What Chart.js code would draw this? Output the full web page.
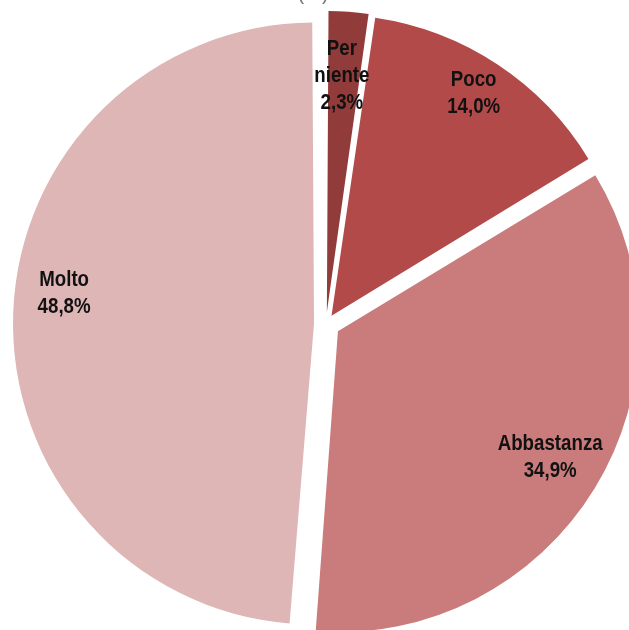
<!DOCTYPE html>
<html>
<head>
<meta charset="utf-8">
<script src="https://cdn.jsdelivr.net/npm/chart.js@4.4.1/dist/chart.umd.min.js"></script>
<style>
  html, body { margin: 0; padding: 0; overflow: hidden; background: #fff; width: 629px; height: 630px; }
  canvas { display: block; }
</style>
</head>
<body>
<canvas id="torta" width="652" height="648"></canvas>
<script>
const categorie = ["Per niente", "Poco", "Abbastanza", "Molto"];
const percentuali = [2.3, 14.0, 34.9, 48.8];
const colori = ["#923b3b", "#b24a49", "#c97c7b", "#deb6b6"];
// offset di Chart.js: lo spostamento reale della fetta è offset/4
const distacchi = [48, 40, 56, 48];
const raggio = 301;
// etichette: [scarto d'angolo in gradi, frazione del raggio]
const posEtichette = [[-0.5, 0.787], [-0.9, 0.877], [-0.8, 0.82], [4.6, 0.836]];

function fmt(v) {
  return v.toFixed(1).replace(".", ",") + "%";
}

// Chart.js allarga un po' le fette spostate: riporto tutte allo stesso raggio
const stessoRaggio = {
  id: "stessoRaggio",
  beforeDatasetsDraw(chart) {
    const meta = chart.getDatasetMeta(0);
    meta.data.forEach((arc, i) => {
      const circ = arc.endAngle - arc.startAngle;
      const crescita = distacchi[i] / 4 * (1 - Math.sin(Math.min(Math.PI, circ)));
      arc.outerRadius = raggio - crescita;
    });
  }
};

const etichette = {
  id: "etichette",
  afterDatasetsDraw(chart) {
    const ctx = chart.ctx;
    const meta = chart.getDatasetMeta(0);
    ctx.save();
    ctx.font = "bold 22px 'Liberation Sans', Arial, sans-serif";
    ctx.fillStyle = "#111";
    ctx.textAlign = "center";
    ctx.textBaseline = "middle";
    meta.data.forEach((arc, i) => {
      const p = arc.getProps(["x", "y", "startAngle", "endAngle"], true);
      const mezzo = (p.startAngle + p.endAngle) / 2;
      const sp = distacchi[i] / 4;
      const cx = p.x + Math.cos(mezzo) * sp;
      const cy = p.y + Math.sin(mezzo) * sp;
      const a = mezzo + posEtichette[i][0] * Math.PI / 180;
      const r = raggio * posEtichette[i][1];
      const x = cx + Math.cos(a) * r;
      const y = cy + Math.sin(a) * r;
      const righe = categorie[i].split(" ");
      righe.push(fmt(percentuali[i]));
      const lh = 27;
      righe.forEach((t, k) => {
        // carattere stretto (tipo Arial Narrow)
        ctx.save();
        ctx.translate(x, y + (k - (righe.length - 1) / 2) * lh);
        ctx.scale(0.85, 1);
        ctx.fillText(t, 0, 0);
        ctx.restore();
      });
    });
    // titolo tagliato in alto
    ctx.font = "20px 'Liberation Sans', Arial, sans-serif";
    ctx.fillStyle = "#777";
    ctx.textBaseline = "alphabetic";
    ctx.fillText("(%)", 313, 0);
    ctx.restore();
  }
};

const ctx = document.getElementById("torta").getContext("2d");
new Chart(ctx, {
  type: "pie",
  data: {
    labels: categorie,
    datasets: [{
      data: percentuali,
      backgroundColor: colori,
      borderWidth: 0,
      offset: distacchi
    }]
  },
  options: {
    responsive: false,
    animation: false,
    radius: raggio,
    layout: { padding: 0 },
    plugins: {
      legend: { display: false },
      tooltip: { enabled: false }
    }
  },
  plugins: [stessoRaggio, etichette]
});
</script>
</body>
</html>
